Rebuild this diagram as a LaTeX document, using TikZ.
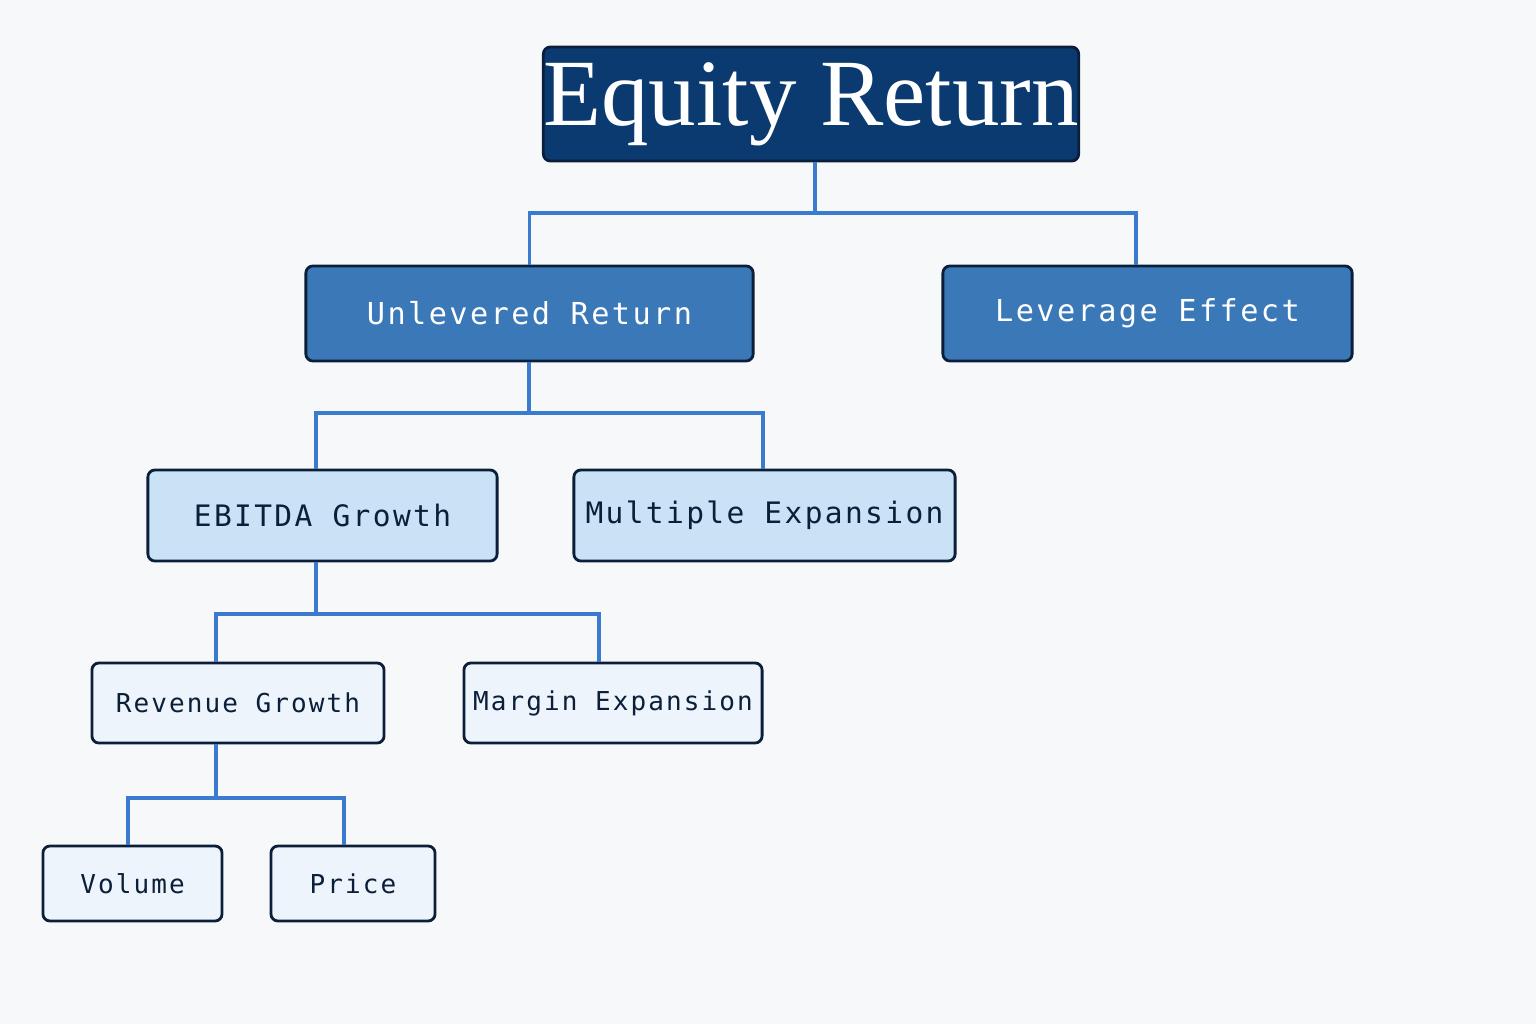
\documentclass[tikz,border=0pt]{standalone}
\usepackage{fontspec}
\setmainfont{Liberation Serif}
\newfontfamily\boxfont[LetterSpace=8]{DejaVu Sans Mono}
\usetikzlibrary{positioning}
\definecolor{bgpaper}{HTML}{F7F8FA}
\definecolor{topblue}{HTML}{0B3A70}
\definecolor{midblue}{HTML}{3A78B8}
\definecolor{lightblue}{HTML}{C9E2F6}
\definecolor{paleblue}{HTML}{EEF4FC}
\definecolor{edgeblue}{HTML}{0B1F3A}
\definecolor{linkblue}{HTML}{3A7BD0}
\tikzset{
  box/.style={draw=edgeblue, line width=0.8pt, rounded corners=2pt, inner sep=0pt},
  lvlA/.style={box, fill=topblue, text=white, font=\fontsize{27}{30}\selectfont},
  lvlB/.style={box, fill=midblue, text=white, font=\boxfont\fontsize{8.6}{10}\selectfont},
  lvlC/.style={box, fill=lightblue, text=edgeblue, font=\boxfont\fontsize{8.4}{10}\selectfont},
  lvlD/.style={box, fill=paleblue, text=edgeblue, font=\boxfont\fontsize{7.4}{9}\selectfont},
  link/.style={draw=linkblue, line width=1.1pt}
}
\begin{document}
\begin{tikzpicture}[x=0.01cm, y=-0.01cm]
  \fill[bgpaper] (0,0) rectangle (1536,1024);
  \useasboundingbox (0,0) rectangle (1536,1024);

  % boxes
  \node[lvlA, minimum width=5.26cm, minimum height=1.14cm] (equity) at (811,104) {Equity Return};
  \node[lvlB, minimum width=4.47cm, minimum height=0.95cm] (unlev) at (529.5,313.5) {Unlevered Return};
  \node[lvlB, minimum width=4.09cm, minimum height=0.95cm] (lever) at (1147.5,313.5) {Leverage Effect};
  \node[lvlC, minimum width=3.49cm, minimum height=0.91cm] (ebitda) at (322.5,515.5) {EBITDA Growth};
  \node[lvlC, minimum width=3.81cm, minimum height=0.91cm] (multi) at (764.5,515.5) {Multiple Expansion};
  \node[lvlD, minimum width=2.92cm, minimum height=0.80cm] (revenue) at (238,703) {Revenue Growth};
  \node[lvlD, minimum width=2.98cm, minimum height=0.80cm] (margin) at (613,703) {Margin Expansion};
  \node[lvlD, minimum width=1.79cm, minimum height=0.75cm] (volume) at (132.5,883.5) {Volume};
  \node[lvlD, minimum width=1.64cm, minimum height=0.75cm] (price) at (353,883.5) {Price};

  % connectors
  \coordinate (eqJ) at (815,213);
  \draw[link] (equity.south -| eqJ) -- (eqJ);
  \draw[link] (eqJ) -| (unlev.north);
  \draw[link] (eqJ) -| ([xshift=-0.115cm]lever.north);
  \coordinate (ulJ) at (529,413);
  \draw[link] (unlev.south -| ulJ) -- (ulJ);
  \draw[link] (ulJ) -| ([xshift=-0.065cm]ebitda.north);
  \draw[link] (ulJ) -| ([xshift=-0.015cm]multi.north);
  \coordinate (ebJ) at (316,614);
  \draw[link] (ebitda.south -| ebJ) -- (ebJ);
  \draw[link] (ebJ) -| ([xshift=-0.22cm]revenue.north);
  \draw[link] (ebJ) -| ([xshift=-0.14cm]margin.north);
  \coordinate (rvJ) at (216,798);
  \draw[link] (revenue.south -| rvJ) -- (rvJ);
  \draw[link] (rvJ) -| ([xshift=-0.045cm]volume.north);
  \draw[link] (rvJ) -| ([xshift=-0.09cm]price.north);
\end{tikzpicture}
\end{document}
